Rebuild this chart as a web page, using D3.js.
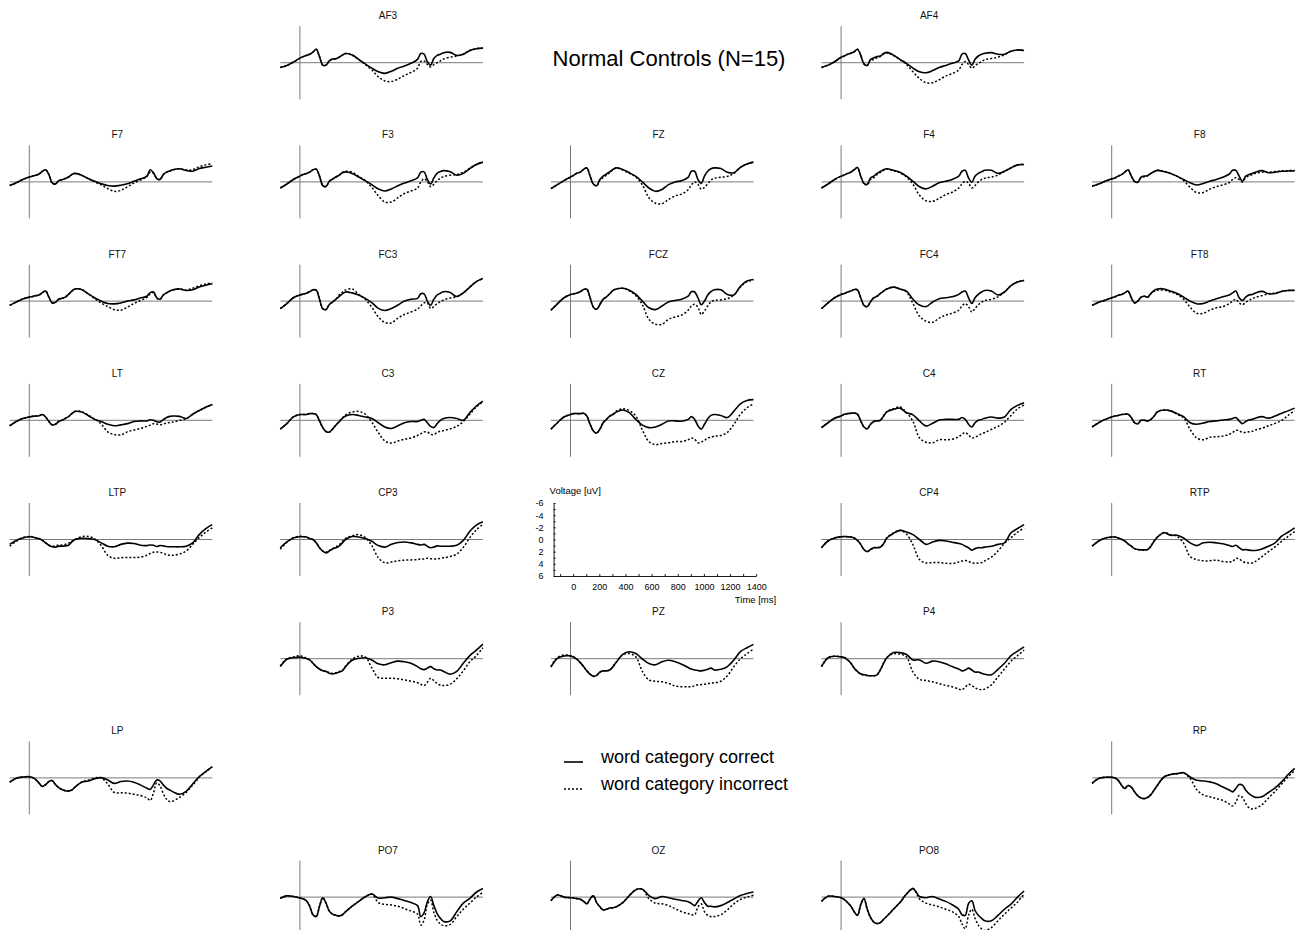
<!DOCTYPE html>
<html>
<head>
<meta charset="utf-8">
<script src="https://cdn.jsdelivr.net/npm/d3@7"></script>
<style>
  body { margin: 0; background: #fff; }
  svg { display: block; font-family: "Liberation Sans", Arial, Helvetica, sans-serif; }
</style>
</head>
<body>
<svg id="chart" width="1298" height="930"></svg>
<script>
// Sample times (ms) shared by every waveform
const times = [-150,-100,-50,0,25,50,75,100,125,150, 175,200,225,250,275,300,325,350,400,450,
  500,550,600,650,700,750,800,850,900,925, 950,975,1000,1025,1050,1075,1100,1150,1200,1250,
  1300,1350,1400];

const channels = ["AF3","AF4","F7","F3","FZ","F4","F8","FT7","FC3","FCZ","FC4","FT8",
  "LT","C3","CZ","C4","RT","LTP","CP3","CP4","RTP","P3","PZ","P4","LP","RP","PO7","OZ","PO8"];

// Grand-average voltages (uV, negative up), one row per channel, word category correct
const wordCorrect = [
  [0.8,0.45,-0.1,-0.75,-1.0,-1.2,-1.4,-1.75,-2.2,-1.0, 0.4,0.4,-0.3,-0.6,-0.65,-0.9,-1.25,-1.5,-1.25,-0.55, 0.2,0.9,1.5,1.75,1.4,0.9,0.55,0.1,-0.55,-1.5, -1.4,-0.15,0.4,-0.7,-1.2,-1.4,-1.65,-1.7,-1.2,-1.4, -2.0,-2.3,-2.4],
  [0.8,0.4,-0.15,-0.9,-1.1,-1.4,-1.55,-1.8,-2.2,-1.25, 0.2,0.45,-0.55,-0.8,-1.0,-1.1,-1.5,-1.7,-1.25,-0.55, 0.1,0.9,1.5,1.65,1.3,0.8,0.45,0.1,-0.3,-1.4, -1.5,-0.45,0.4,-0.55,-1.1,-1.4,-1.55,-1.65,-1.4,-1.4, -1.9,-2.1,-2.0],
  [0.6,0.15,-0.4,-0.8,-0.95,-1.1,-1.3,-1.75,-2.0,-1.2, 0.15,0.35,-0.2,-0.35,-0.55,-0.8,-1.2,-1.4,-1.1,-0.55, -0.1,0.3,0.6,0.7,0.55,0.3,-0.1,-0.5,-0.95,-2.0, -1.5,-0.55,-0.4,-1.2,-1.6,-1.8,-2.0,-2.15,-1.9,-1.75, -2.2,-2.4,-2.6],
  [1.0,0.35,-0.4,-0.95,-1.2,-1.4,-1.6,-2.0,-2.1,-0.95, 0.6,0.75,-0.1,-0.45,-0.8,-1.1,-1.5,-1.65,-1.4,-0.8, -0.2,0.45,1.15,1.5,1.15,0.65,0.2,-0.2,-0.65,-1.6, -1.65,-0.4,0.35,-0.65,-1.4,-1.7,-1.85,-1.65,-1.1,-1.4, -2.2,-2.85,-3.25],
  [1.1,0.45,-0.2,-0.8,-1.1,-1.45,-1.6,-2.05,-2.3,-0.95, 0.35,0.65,-0.4,-0.95,-1.3,-1.65,-2.05,-2.3,-2.05,-1.5, -0.9,0.0,1.0,1.55,1.25,0.45,0.0,-0.2,-0.75,-1.75, -1.75,-0.4,0.25,-0.95,-1.75,-2.15,-2.3,-2.2,-1.6,-1.5, -2.4,-2.95,-3.25],
  [1.0,0.35,-0.4,-0.95,-1.15,-1.4,-1.6,-2.0,-2.35,-0.95, 0.25,0.4,-0.65,-0.95,-1.4,-1.7,-2.0,-2.15,-1.9,-1.6, -0.95,-0.1,0.8,1.15,0.7,0.15,-0.1,-0.4,-0.95,-1.75, -1.9,-0.65,0.05,-0.95,-1.4,-1.65,-1.9,-1.9,-1.4,-1.75, -2.3,-2.8,-2.85],
  [0.7,0.35,-0.1,-0.5,-0.65,-0.95,-1.2,-1.6,-2.0,-0.95, -0.1,0.05,-0.8,-0.95,-1.05,-1.4,-1.7,-1.9,-1.7,-1.4, -0.95,-0.4,0.15,0.5,0.25,-0.1,-0.4,-0.75,-1.3,-1.9, -1.9,-0.95,-0.1,-0.95,-1.2,-1.4,-1.6,-1.85,-1.5,-1.6, -1.75,-1.8,-1.8],
  [0.7,0.15,-0.35,-0.65,-0.75,-0.9,-1.0,-1.4,-1.65,-0.65, 0.3,0.2,-0.3,-0.45,-0.65,-1.1,-1.65,-2.0,-1.9,-1.2, -0.55,0.0,0.4,0.45,0.3,0.0,-0.2,-0.5,-0.8,-1.4, -1.5,-0.55,-0.3,-1.0,-1.35,-1.65,-1.85,-2.0,-1.75,-1.85, -2.3,-2.6,-2.85],
  [1.25,0.4,-0.55,-1.0,-1.15,-1.3,-1.55,-1.85,-1.8,-0.3, 1.25,1.4,0.55,0.15,-0.3,-0.75,-1.2,-1.5,-1.35,-1.0, -0.45,0.25,1.2,1.55,1.2,0.65,0.0,-0.3,-0.45,-1.2, -1.2,0.0,0.7,-0.3,-1.0,-1.3,-1.55,-1.4,-0.75,-1.35, -2.3,-3.2,-3.7],
  [1.5,0.45,-0.55,-1.1,-1.2,-1.35,-1.55,-1.9,-1.95,-0.55, 1.0,1.35,0.55,-0.3,-0.7,-1.2,-1.75,-2.0,-2.1,-1.8, -1.1,0.0,1.1,1.4,0.8,0.15,-0.1,-0.3,-0.8,-1.55, -1.5,-0.55,0.6,0.0,-1.0,-1.55,-1.85,-1.85,-1.1,-1.0, -2.45,-3.3,-3.55],
  [1.25,0.3,-0.55,-1.1,-1.25,-1.5,-1.65,-1.9,-1.85,-0.55, 0.7,0.9,0.1,-0.55,-0.8,-1.25,-1.65,-2.0,-2.3,-2.0, -1.65,-0.3,0.65,0.9,0.15,-0.4,-0.55,-0.7,-1.1,-1.5, -1.65,-0.55,0.4,-0.55,-1.1,-1.5,-1.75,-1.65,-1.0,-1.5, -2.55,-3.15,-3.4],
  [0.7,0.2,-0.15,-0.55,-0.7,-0.95,-1.1,-1.35,-1.65,-0.55, 0.3,0.0,-0.65,-0.8,-0.65,-1.25,-1.75,-2.0,-2.0,-1.65, -1.25,-0.65,0.0,0.45,0.4,0.0,-0.4,-0.7,-1.0,-1.35, -1.65,-0.55,-0.1,-0.65,-1.0,-1.1,-1.35,-1.6,-1.2,-1.25, -1.6,-1.75,-1.75],
  [0.9,0.2,-0.3,-0.55,-0.65,-0.7,-0.75,-0.95,-0.55,0.2, 0.75,0.65,0.2,0.0,-0.3,-0.6,-1.1,-1.45,-1.35,-0.8, -0.15,0.2,0.65,0.9,0.75,0.55,0.2,0.1,0.1,-0.1, 0.0,0.25,0.3,-0.1,-0.45,-0.65,-0.7,-0.65,-0.3,-1.0, -1.6,-2.15,-2.6],
  [1.45,0.55,-0.55,-0.95,-0.95,-0.95,-1.1,-1.1,-0.95,0.1, 1.2,1.85,1.95,1.45,0.8,0.25,-0.3,-0.7,-0.95,-0.8, -0.55,-0.3,0.4,1.1,1.35,0.9,0.4,0.2,0.2,0.0, -0.15,0.4,1.0,1.2,0.55,0.0,-0.3,-0.45,-0.3,0.0, -1.25,-2.35,-3.15],
  [1.45,0.4,-0.55,-0.95,-1.1,-1.1,-1.1,-1.15,-0.7,0.65, 1.75,2.1,1.45,0.4,-0.15,-0.7,-0.95,-1.35,-1.7,-1.25, -0.15,0.8,1.2,1.1,0.65,0.1,0.1,0.15,-0.15,-0.6, -0.15,0.9,1.45,0.65,-0.25,-0.8,-0.95,-0.8,-0.45,-1.5, -2.7,-3.25,-3.4],
  [1.2,0.4,-0.35,-0.7,-1.0,-1.1,-1.15,-1.2,-1.0,0.1, 1.1,1.4,0.65,0.2,0.1,0.0,-0.7,-1.4,-1.8,-2.0, -1.25,-0.9,0.1,0.95,0.5,-0.05,-0.15,-0.15,-0.15,-0.45, -0.15,0.65,1.1,0.4,0.0,-0.15,-0.35,-0.55,-0.35,-0.55, -1.8,-2.45,-2.9],
  [1.1,0.4,-0.15,-0.55,-0.7,-0.8,-0.95,-1.0,-1.0,-0.45, 0.4,0.55,0.0,0.0,0.1,-0.15,-0.7,-1.4,-1.7,-1.55, -1.1,-0.6,0.4,0.65,0.45,0.2,0.1,-0.05,-0.15,-0.3, -0.45,0.1,0.55,0.2,-0.05,-0.15,-0.35,-0.6,-0.35,-0.7, -1.15,-1.55,-2.0],
  [0.8,0.15,-0.25,-0.45,-0.4,-0.25,-0.15,0.15,0.55,0.95, 1.2,1.25,1.1,1.1,1.05,0.95,0.4,0.0,-0.2,-0.15, 0.0,0.55,1.1,1.2,0.8,0.6,0.65,0.95,1.0,0.9, 0.95,1.15,1.0,1.05,1.15,1.2,1.2,1.2,1.1,0.55, -0.8,-1.8,-2.45],
  [1.35,0.4,-0.25,-0.45,-0.45,-0.4,-0.15,0.0,0.55,1.35, 1.9,2.2,1.9,1.55,1.35,1.1,0.55,0.0,-0.5,-0.4, -0.15,0.3,1.0,1.25,0.8,0.5,0.4,0.55,0.8,0.9, 0.8,1.1,1.35,1.25,1.05,1.1,1.1,1.1,0.95,0.15, -1.35,-2.35,-2.9],
  [1.35,0.25,-0.25,-0.45,-0.5,-0.45,-0.4,-0.25,0.15,0.8, 1.65,2.0,1.65,1.35,1.35,1.25,0.7,-0.25,-1.0,-1.5, -1.25,-0.8,0.0,0.8,0.4,0.15,0.25,0.45,0.65,0.8, 1.1,1.35,1.75,1.5,1.35,1.35,1.25,1.1,0.8,0.55, -1.1,-1.8,-2.45],
  [1.1,0.25,-0.25,-0.4,-0.4,-0.25,-0.05,0.25,0.7,1.1, 1.5,1.65,1.7,1.7,1.65,1.1,0.25,-0.4,-1.1,-0.7, -0.7,-0.25,0.55,1.0,0.55,0.45,0.55,0.7,1.0,1.15, 0.95,1.35,1.7,1.65,1.75,1.8,1.8,1.55,1.1,0.55, -0.55,-1.2,-1.9],
  [1.3,0.1,-0.15,-0.25,-0.15,-0.05,0.2,0.75,1.3,1.7, 2.0,2.1,2.4,2.5,2.4,2.2,2.0,1.3,0.25,-0.05, -0.15,0.2,0.85,1.0,0.65,0.4,0.5,0.75,1.3,1.65, 1.8,1.55,1.3,1.65,1.85,1.85,2.1,2.55,2.1,0.75, -0.5,-1.4,-2.4],
  [1.4,-0.05,-0.45,-0.45,-0.25,0.1,0.65,1.3,2.0,2.55, 2.9,2.75,2.2,2.0,2.0,1.85,1.3,0.6,-0.7,-1.15, -0.85,0.05,0.8,1.0,0.5,0.25,0.5,0.9,1.45,1.7, 1.85,1.95,2.0,1.9,1.75,1.55,1.85,1.75,1.3,0.2, -1.15,-1.8,-2.35],
  [1.3,-0.15,-0.4,-0.3,-0.2,0.2,0.75,1.55,2.1,2.5, 2.65,2.75,2.8,2.8,2.65,1.85,0.75,-0.15,-1.0,-1.0, -0.7,0.2,0.2,0.75,0.4,0.5,0.85,1.3,1.7,2.0, 1.85,1.55,1.85,2.2,2.2,2.4,2.55,2.65,1.75,0.75, -0.5,-1.25,-1.95],
  [0.7,0.05,-0.15,-0.2,-0.05,0.3,0.85,1.4,1.1,0.6, 0.45,1.1,1.6,1.9,2.1,2.15,2.0,1.5,0.7,0.5, 0.15,-0.05,0.35,0.9,0.6,0.5,0.7,1.15,1.7,1.9, 1.15,0.35,0.5,1.15,1.7,2.0,2.3,2.7,2.2,1.0, -0.2,-1.05,-1.85],
  [0.9,0.1,-0.1,-0.1,0.0,0.4,1.2,1.75,1.25,1.5, 2.3,2.95,3.3,3.4,3.2,2.75,2.0,1.2,-0.15,-0.55, -0.7,-0.85,-0.15,0.4,0.5,0.65,0.95,1.5,2.0,2.3, 1.75,1.1,1.2,2.0,2.6,2.95,3.2,3.1,2.4,1.65, 0.65,-0.55,-1.55],
  [0.2,-0.2,-0.1,0.15,0.3,0.6,1.5,2.9,3.2,1.5, 0.1,1.0,2.3,2.8,3.0,3.1,2.9,2.4,1.5,0.7, -0.05,-0.5,0.15,0.1,0.0,0.25,0.55,0.9,1.4,3.2, 2.6,0.8,-0.1,1.4,2.7,3.5,4.0,3.9,2.4,1.0, 0.2,-0.8,-1.4],
  [0.6,-0.35,0.0,0.1,0.15,0.25,0.35,0.7,1.1,0.3, -0.2,0.9,1.6,2.1,2.0,1.8,1.75,1.6,0.9,-0.25, -1.2,-1.3,-0.25,0.25,-0.1,0.1,0.35,0.55,0.75,1.05, 1.4,0.7,0.1,0.9,1.5,1.5,1.6,1.4,0.9,0.3, -0.25,-0.6,-0.85],
  [0.7,-0.15,-0.1,0.1,0.4,0.9,1.5,2.4,3.0,1.25, 0.25,2.0,3.35,4.1,4.35,4.2,3.65,3.15,2.0,0.9, -0.5,-1.4,-0.1,0.1,-0.1,0.3,0.7,1.25,2.0,2.9, 3.0,1.05,0.6,2.2,3.0,3.5,3.9,3.9,3.0,2.0, 1.15,0.0,-1.0]
];

// Grand-average voltages (uV, negative up), word category incorrect
const wordIncorrect = [
  [0.8,0.45,-0.1,-0.75,-1.0,-1.2,-1.4,-1.75,-2.2,-1.0, 0.4,0.4,-0.3,-0.6,-0.65,-0.9,-1.25,-1.5,-1.25,-0.5, 0.3,1.2,2.3,3.0,3.1,2.7,2.1,1.6,0.9,-0.2, -0.3,0.3,0.7,0.3,0.0,-0.3,-0.6,-0.9,-1.1,-1.4, -2.0,-2.3,-2.4],
  [0.8,0.4,-0.15,-0.9,-1.1,-1.4,-1.55,-1.8,-2.2,-1.25, 0.2,0.45,-0.4,-0.5,-0.8,-1.0,-1.4,-1.6,-1.2,-0.5, 0.3,1.5,2.6,3.3,3.3,2.8,2.2,1.8,1.2,0.3, -0.2,0.3,0.9,0.5,0.1,-0.2,-0.5,-0.7,-0.9,-1.3, -1.9,-2.1,-2.0],
  [0.6,0.15,-0.4,-0.8,-0.95,-1.1,-1.3,-1.75,-2.0,-1.2, 0.15,0.35,-0.2,-0.35,-0.55,-0.8,-1.2,-1.4,-1.1,-0.55, 0.0,0.5,1.1,1.55,1.4,0.8,0.2,-0.3,-0.9,-1.6, -1.4,-0.6,-0.4,-1.2,-1.6,-1.8,-2.0,-2.15,-1.95,-2.0, -2.5,-2.8,-3.0],
  [1.0,0.35,-0.4,-0.95,-1.2,-1.4,-1.6,-2.0,-2.1,-0.95, 0.6,0.75,-0.1,-0.45,-0.8,-1.1,-1.55,-1.75,-1.6,-0.9, -0.2,0.9,2.3,3.3,3.3,2.6,1.9,1.5,1.0,0.0, -0.5,-0.1,0.8,0.4,-0.2,-0.6,-0.9,-1.1,-1.2,-1.6, -2.2,-2.85,-3.25],
  [1.1,0.45,-0.2,-0.8,-1.1,-1.45,-1.6,-2.05,-2.3,-0.95, 0.35,0.65,-0.3,-0.7,-1.1,-1.5,-2.0,-2.3,-1.95,-1.4, -0.8,0.5,2.6,3.5,3.6,2.9,2.3,2.0,1.3,0.5, 0.0,0.4,1.2,0.9,0.3,-0.3,-0.6,-0.75,-0.9,-1.4, -2.4,-2.95,-3.25],
  [1.0,0.35,-0.4,-0.95,-1.15,-1.4,-1.6,-2.0,-2.35,-0.95, 0.3,0.5,-0.4,-0.7,-1.2,-1.55,-1.9,-2.1,-1.85,-1.5, -0.8,0.4,2.2,3.1,3.2,2.7,2.1,1.7,1.0,0.3, -0.1,0.2,1.0,0.6,0.0,-0.4,-0.6,-0.8,-1.1,-1.75, -2.3,-2.8,-2.85],
  [0.7,0.35,-0.1,-0.5,-0.65,-0.95,-1.2,-1.6,-2.0,-0.95, -0.1,0.05,-0.7,-0.85,-1.0,-1.35,-1.7,-1.9,-1.7,-1.4, -0.9,-0.2,0.9,1.75,1.75,1.2,0.8,0.5,0.1,-0.4, -0.7,-0.4,0.0,-0.7,-1.0,-1.2,-1.4,-1.6,-1.6,-1.7, -1.8,-1.85,-1.9],
  [0.7,0.15,-0.35,-0.65,-0.75,-0.9,-1.0,-1.4,-1.65,-0.65, 0.3,0.2,-0.3,-0.45,-0.65,-1.1,-1.65,-2.0,-1.9,-1.2, -0.4,0.3,0.9,1.4,1.5,1.0,0.4,-0.1,-0.6,-1.2, -1.4,-0.5,-0.3,-1.0,-1.35,-1.65,-1.85,-2.0,-1.8,-2.1, -2.5,-2.8,-3.0],
  [1.25,0.4,-0.55,-1.0,-1.15,-1.3,-1.55,-1.85,-1.8,-0.3, 1.25,1.4,0.55,0.15,-0.3,-1.0,-1.5,-1.85,-2.0,-1.1, -0.3,1.0,2.6,3.5,3.6,2.8,2.2,1.8,1.3,0.8, 0.3,0.3,1.2,0.9,0.4,0.1,-0.2,-0.5,-0.75,-1.35, -2.3,-3.2,-3.7],
  [1.5,0.45,-0.55,-1.1,-1.2,-1.35,-1.55,-1.9,-1.95,-0.55, 1.0,1.35,0.55,-0.3,-0.7,-1.2,-1.75,-2.0,-2.1,-1.7, -0.9,0.6,3.0,3.8,3.8,3.0,2.6,2.3,1.5,0.8, 0.5,1.0,2.2,1.6,0.8,0.1,-0.1,-0.2,-0.4,-1.0, -2.3,-3.2,-3.45],
  [1.25,0.3,-0.55,-1.1,-1.25,-1.5,-1.65,-1.9,-1.85,-0.55, 0.7,0.9,0.1,-0.55,-0.8,-1.25,-1.65,-2.0,-2.3,-2.0, -1.5,0.4,2.5,3.3,3.5,2.8,2.3,2.0,1.5,0.8, 0.4,0.9,1.8,1.2,0.6,0.2,-0.1,-0.3,-0.7,-1.5, -2.55,-3.15,-3.4],
  [0.7,0.2,-0.15,-0.55,-0.7,-0.95,-1.1,-1.35,-1.65,-0.55, 0.3,0.0,-0.65,-0.8,-0.65,-1.2,-1.6,-1.8,-1.8,-1.5, -1.1,-0.3,1.0,2.0,2.0,1.5,1.1,0.9,0.4,0.0, -0.3,0.3,0.6,0.2,-0.1,-0.4,-0.6,-0.9,-1.2,-1.3, -1.6,-1.75,-1.8],
  [0.9,0.2,-0.3,-0.55,-0.65,-0.7,-0.75,-0.95,-0.55,0.2, 0.75,0.65,0.2,0.0,-0.3,-0.6,-1.1,-1.5,-1.45,-0.85, -0.2,0.6,1.9,2.35,2.4,1.9,1.6,1.35,1.0,0.8, 0.55,0.6,0.75,0.6,0.45,0.35,0.3,0.0,-0.25,-1.0, -1.6,-2.15,-2.6],
  [1.45,0.55,-0.55,-0.95,-0.95,-0.95,-1.1,-1.1,-0.95,0.1, 1.2,1.85,1.95,1.45,0.8,0.2,-0.4,-0.9,-1.35,-1.45, -1.0,0.3,2.0,3.4,3.75,3.4,3.1,2.9,2.5,2.2, 1.9,1.9,2.3,2.35,2.0,1.8,1.7,1.4,1.0,0.2, -1.0,-2.2,-3.0],
  [1.45,0.4,-0.55,-0.95,-1.1,-1.1,-1.1,-1.15,-0.7,0.65, 1.75,2.1,1.45,0.4,-0.15,-0.7,-1.0,-1.5,-1.9,-1.6, -0.7,1.6,3.5,4.0,3.8,3.7,3.5,3.5,3.2,2.9, 3.1,3.7,3.6,3.3,2.9,2.8,2.6,2.5,2.0,0.65, -1.0,-2.05,-2.7],
  [1.2,0.4,-0.35,-0.7,-1.0,-1.1,-1.15,-1.2,-1.0,0.1, 1.1,1.4,0.65,0.2,0.1,0.0,-0.7,-1.45,-1.9,-2.2, -1.3,0.2,2.9,3.6,3.7,3.2,3.2,3.1,2.7,2.3, 2.0,2.4,2.9,2.8,2.5,2.2,2.0,1.5,1.0,0.3, -0.8,-1.9,-2.5],
  [1.1,0.4,-0.15,-0.55,-0.7,-0.8,-0.95,-1.0,-1.0,-0.45, 0.4,0.55,0.0,0.0,0.1,-0.15,-0.7,-1.4,-1.7,-1.55, -1.0,-0.4,1.5,2.9,3.2,2.8,2.7,2.6,2.3,2.0, 1.65,1.7,2.0,2.0,1.9,1.8,1.6,1.3,0.9,0.5, 0.0,-0.8,-1.6],
  [1.1,0.3,-0.3,-0.5,-0.45,-0.3,-0.15,0.15,0.55,0.95, 1.1,1.0,0.95,0.9,0.8,0.6,0.3,0.0,-0.45,-0.5, -0.1,1.0,2.6,3.1,3.0,2.95,2.95,2.9,2.6,2.3, 2.1,2.05,2.1,2.3,2.5,2.6,2.6,2.4,1.9,0.8, -0.3,-1.2,-1.9],
  [1.6,0.5,-0.3,-0.55,-0.5,-0.4,-0.15,0.0,0.55,1.35, 1.9,2.1,1.8,1.5,1.2,0.9,0.3,-0.2,-0.6,-0.8, -0.3,1.0,3.0,3.85,3.7,3.5,3.4,3.35,3.3,3.2, 3.2,3.1,3.15,3.2,3.2,3.1,3.0,2.8,2.4,1.3, -0.3,-1.6,-2.5],
  [1.35,0.25,-0.25,-0.45,-0.5,-0.45,-0.4,-0.25,0.15,0.8, 1.65,2.0,1.65,1.35,1.35,1.25,0.7,-0.3,-1.1,-1.5, -0.9,0.9,3.3,3.85,3.8,3.8,3.9,3.95,3.7,3.55, 3.45,3.6,3.85,3.9,3.85,3.8,3.5,2.9,1.9,0.6, -0.3,-1.2,-1.9],
  [1.1,0.25,-0.25,-0.4,-0.4,-0.25,-0.05,0.25,0.7,1.1, 1.5,1.65,1.7,1.7,1.65,1.1,0.25,-0.4,-1.15,-0.8, -0.5,0.6,2.8,3.3,3.5,3.5,3.4,3.6,3.7,3.6, 3.1,3.2,3.6,3.8,3.85,3.85,3.6,2.8,2.0,1.2, 0.3,-0.5,-1.3],
  [1.2,0.0,-0.3,-0.5,-0.3,-0.1,0.2,0.75,1.3,1.7, 2.0,2.0,2.3,2.4,2.3,2.1,1.9,1.2,0.1,-0.4, -0.3,1.5,3.1,3.2,3.2,3.3,3.5,3.7,3.95,4.2, 4.4,3.9,3.2,3.6,4.1,4.35,4.4,4.2,3.3,2.0, 0.5,-0.5,-1.8],
  [1.3,-0.2,-0.6,-0.55,-0.3,0.1,0.65,1.3,2.0,2.55, 2.9,2.75,2.2,2.0,2.0,1.85,1.3,0.6,-0.65,-0.85, -0.3,2.1,3.5,3.7,3.8,4.05,4.5,4.6,4.6,4.6, 4.45,4.3,4.25,4.2,4.1,4.0,3.95,3.7,2.8,1.3, 0.0,-0.8,-1.6],
  [1.3,-0.15,-0.4,-0.3,-0.2,0.2,0.75,1.55,2.1,2.5, 2.65,2.75,2.8,2.8,2.65,1.85,0.7,-0.2,-0.8,-0.75, -0.3,2.2,3.4,3.6,3.8,4.1,4.4,4.6,5.0,5.1, 4.7,4.2,4.4,4.8,5.0,5.1,5.0,4.3,3.0,1.7, 0.4,-0.5,-1.4],
  [0.7,0.05,-0.15,-0.2,-0.05,0.3,0.85,1.4,1.1,0.6, 0.45,1.1,1.6,1.9,2.1,2.15,2.0,1.5,0.7,0.4, 0.0,0.0,1.0,2.4,2.45,2.5,2.7,2.9,3.3,3.7, 2.5,0.8,1.3,2.6,3.5,3.9,3.8,3.2,2.4,1.2, -0.1,-1.0,-1.8],
  [0.9,0.1,-0.1,-0.1,0.0,0.4,1.2,1.75,1.25,1.5, 2.3,2.95,3.3,3.4,3.2,2.75,2.0,1.2,-0.15,-0.55, -0.7,-0.8,0.1,1.9,2.8,3.1,3.4,3.7,4.3,4.6, 4.0,2.9,3.2,4.2,4.9,5.1,5.0,4.4,3.3,2.2, 1.0,-0.2,-1.2],
  [0.2,-0.2,-0.1,0.15,0.3,0.6,1.5,2.9,3.2,1.5, 0.1,1.0,2.3,2.8,3.0,3.1,2.9,2.4,1.5,0.7, -0.05,-0.5,0.9,1.2,1.3,1.5,1.9,2.3,2.8,4.6, 3.8,1.2,0.5,2.5,3.8,4.4,4.7,4.5,3.2,2.0, 1.0,0.0,-0.8],
  [0.6,-0.35,0.0,0.1,0.15,0.25,0.35,0.7,1.1,0.3, -0.2,0.9,1.6,2.1,2.0,1.8,1.75,1.6,0.9,-0.25, -1.2,-1.3,0.25,1.0,1.1,1.4,1.9,2.4,2.7,2.9, 2.9,1.6,1.1,2.4,3.0,3.2,3.2,2.9,2.1,1.1, 0.4,0.0,-0.3],
  [0.7,-0.15,-0.1,0.1,0.4,0.9,1.5,2.4,3.0,1.25, 0.25,2.0,3.35,4.1,4.35,4.2,3.65,3.15,2.0,0.9, -0.5,-1.4,0.3,1.0,1.3,1.6,2.0,2.4,3.2,4.4, 5.2,3.0,2.0,3.5,4.6,5.2,5.5,5.0,3.9,2.8, 1.8,0.8,-0.5]
];

const voltageTicks = [-6,-5,-4,-3,-2,-1,0,1,2,3,4,5,6];
const timeTicks = [-100,0,100,200,300,400,500,600,700,800,900,1000,1100,1200,1300,1400];
const legendLabels = ["word category correct", "word category incorrect"];
const chartTitle = "Normal Controls (N=15)";

// Montage layout: [column, row] of each electrode panel
const montage = {
  AF3:[1,0], AF4:[3,0],
  F7:[0,1], F3:[1,1], FZ:[2,1], F4:[3,1], F8:[4,1],
  FT7:[0,2], FC3:[1,2], FCZ:[2,2], FC4:[3,2], FT8:[4,2],
  LT:[0,3], C3:[1,3], CZ:[2,3], C4:[3,3], RT:[4,3],
  LTP:[0,4], CP3:[1,4], CP4:[3,4], RTP:[4,4],
  P3:[1,5], PZ:[2,5], P4:[3,5],
  LP:[0,6], RP:[4,6],
  PO7:[1,7], OZ:[2,7], PO8:[3,7]
};
const scaleSlot = [2,4];

const colStep = 270.6, rowStep = 119.2;
const zeroX = 29.3, baseY = 62.7;

const svg = d3.select("#chart");

const x = d3.scaleLinear().domain([-150, 1400]).range([0, 1550 * 0.1307]);
const y = d3.scaleLinear().domain([-6, 6]).range([-36.5, 36.5]);

const line = d3.line()
  .x((d, i) => x(times[i]))
  .y(d => y(d))
  .curve(d3.curveCatmullRom.alpha(0.5));

function panelOrigin(c, r) {
  return [zeroX + c * colStep - x(0), baseY + r * rowStep];
}

channels.forEach((name, k) => {
  const [c, r] = montage[name];
  const [ox, oy] = panelOrigin(c, r);
  const g = svg.append("g").attr("transform", `translate(${ox},${oy})`);

  g.append("line")
    .attr("x1", x(-150)).attr("x2", x(1400))
    .attr("y1", y(0)).attr("y2", y(0))
    .attr("stroke", "#7a7a7a").attr("stroke-width", 1);
  g.append("line")
    .attr("x1", x(0)).attr("x2", x(0))
    .attr("y1", y(-6)).attr("y2", y(6))
    .attr("stroke", "#7a7a7a").attr("stroke-width", 1);

  g.append("path").datum(wordIncorrect[k])
    .attr("d", line).attr("fill", "none")
    .attr("stroke", "#000").attr("stroke-width", 1.5)
    .attr("stroke-dasharray", "2,2");
  g.append("path").datum(wordCorrect[k])
    .attr("d", line).attr("fill", "none")
    .attr("stroke", "#000").attr("stroke-width", 1.6);

  g.append("text")
    .attr("x", x(0) + 88).attr("y", -43.5)
    .attr("text-anchor", "middle")
    .attr("font-size", 10).attr("fill", "#111")
    .text(name);
});

// Calibration panel with voltage and time axes
{
  const [ox, oy] = panelOrigin(scaleSlot[0], scaleSlot[1]);
  const g = svg.append("g").attr("transform", `translate(${ox + 2.7},${oy})`);

  const yAxis = g.append("g")
    .attr("transform", `translate(${x(-150)},0)`)
    .call(d3.axisLeft(y).tickValues(voltageTicks).tickSize(-2).tickSizeOuter(0)
      .tickPadding(10).tickFormat(v => (v % 2 === 0 ? String(v) : "")));
  const xAxis = g.append("g")
    .attr("transform", `translate(0,${y(6)})`)
    .call(d3.axisBottom(x).tickValues(timeTicks).tickSize(-2).tickSizeOuter(0)
      .tickPadding(8).tickFormat(v => (v >= 0 && v % 200 === 0 ? String(v) : "")));

  [yAxis, xAxis].forEach(a => {
    a.attr("font-family", null).attr("font-size", null);
    a.selectAll("text").attr("font-size", 9).attr("fill", "#000");
    a.selectAll("path, line").attr("stroke", "#000").attr("stroke-width", 0.9);
  });

  g.append("text")
    .attr("x", x(-150) - 4).attr("y", y(-6) - 9)
    .attr("font-size", 9.5).attr("fill", "#000")
    .text("Voltage [uV]");
  g.append("text")
    .attr("x", x(1400) + 20).attr("y", y(6) + 27)
    .attr("text-anchor", "end")
    .attr("font-size", 9.5).attr("fill", "#000")
    .text("Time [ms]");
}

// Title
svg.append("text")
  .attr("x", 669).attr("y", 65.5)
  .attr("text-anchor", "middle")
  .attr("font-size", 22).attr("fill", "#000")
  .text(chartTitle);

// Legend
const legend = svg.append("g");
legendLabels.forEach((label, i) => {
  const ly = 762 + i * 27;
  legend.append("line")
    .attr("x1", 564).attr("x2", 583)
    .attr("y1", ly).attr("y2", ly)
    .attr("stroke", "#000").attr("stroke-width", 1.6)
    .attr("stroke-dasharray", i === 0 ? null : "2,2");
  legend.append("text")
    .attr("x", 601).attr("y", ly + 1)
    .attr("font-size", 18).attr("fill", "#000")
    .text(label);
});
</script>
</body>
</html>
